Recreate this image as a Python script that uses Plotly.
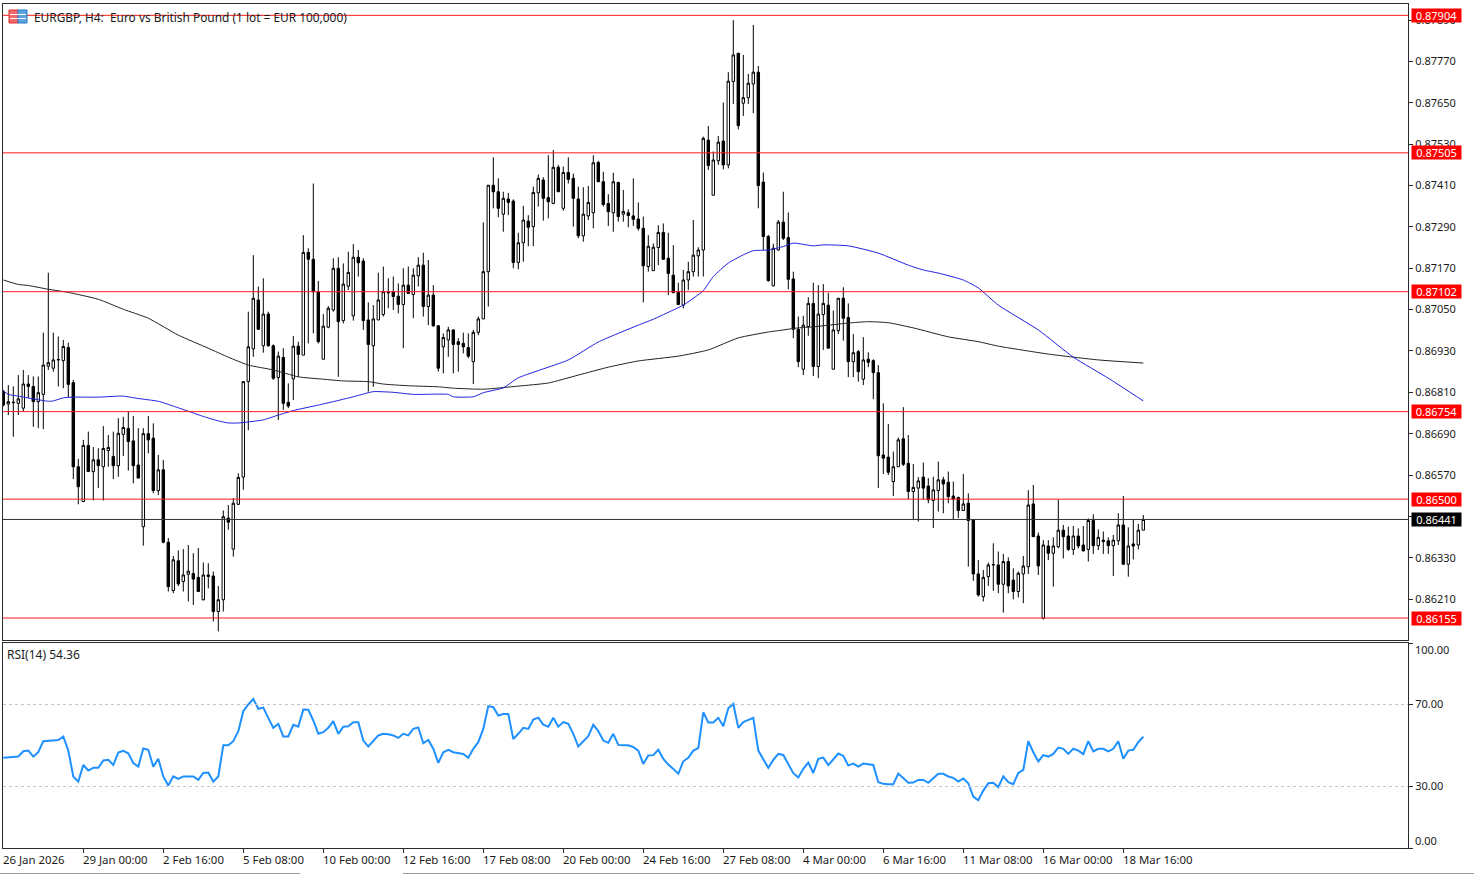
import plotly.graph_objects as go

W, H = 1474, 874
L, R, T, B = 3, 1408, 4, 848

# H4 candles in price points (1 point = 0.00001)
opens_pts = [
86812,86776,86780,86778,86764,86834,86827,86783,86804,86886,
86880,86904,86902,86940,86838,86594,86493,86656,86580,86614,
86594,86641,86624,86597,86688,86705,86669,86599,86420,86690,
86677,86525,86585,86375,86235,86321,86261,86282,86284,86273,
86208,86280,86277,86174,86208,86445,86355,86485,86564,86841,
86936,87078,86945,87037,86945,86853,86911,86781,86849,86944,
86918,87216,87196,87102,86906,86999,87049,87170,87018,87118,
87032,87202,87191,87020,86945,87020,87036,87102,87102,87089,
87065,87121,87094,87148,87179,87059,87092,87003,86942,86962,
86991,86957,86952,86940,86899,86984,87023,87160,87411,87392,
87327,87371,87365,87187,87244,87307,87291,87389,87426,87375,
87358,87463,87344,87448,87431,87371,87264,87322,87331,87477,
87421,87358,87331,87419,87327,87331,87322,87313,87286,87175,
87163,87230,87274,87199,87150,87102,87063,87136,87160,87206,
87223,87542,87382,87482,87539,87470,87712,87794,87649,87665,
87705,87739,87420,87262,87119,87223,87304,87259,87139,86993,
86877,87001,87068,86885,87036,87063,86877,86989,87083,87027,
86899,86928,86848,86906,86902,86867,86628,86622,86551,86594,
86675,86604,86522,86532,86564,86538,86496,86525,86556,86549,
86509,86505,86467,86488,86441,86283,86217,86275,86309,86309,
86253,86319,86265,86232,86283,86304,86486,86393,86154,86364,
86343,86362,86410,86393,86354,86393,86367,86354,86438,86365,
86381,86379,86365,86379,86425,86311,86370,86367,86410]
highs_pts = [
86817,86831,86827,86860,86875,86860,86856,86856,86983,87157,
86983,86972,86962,86954,86846,86617,86672,86696,86651,86648,
86712,86686,86696,86735,86739,86754,86741,86706,86706,86741,
86720,86628,86614,86387,86335,86351,86355,86367,86343,86358,
86316,86314,86290,86248,86467,86483,86503,86575,86841,87044,
87208,87117,87141,87044,86949,86928,86938,86836,86973,86957,
87266,87228,87416,87133,87037,87060,87199,87202,87184,87218,
87240,87223,87199,87071,87063,87157,87175,87141,87146,87126,
87170,87175,87170,87202,87215,87194,87121,87005,86981,87000,
86993,86967,86983,86981,86991,87030,87303,87411,87492,87431,
87392,87389,87370,87273,87351,87324,87407,87442,87434,87498,
87513,87470,87465,87492,87445,87407,87405,87409,87498,87482,
87450,87385,87447,87421,87397,87341,87431,87361,87320,87266,
87242,87295,87300,87273,87237,87128,87165,87189,87310,87231,
87552,87583,87509,87554,87651,87739,87890,87794,87789,87734,
87876,87757,87448,87267,87241,87310,87392,87332,87160,87030,
87032,87086,87128,87121,87124,87099,87047,87083,87115,87068,
86979,86933,86970,86926,86906,86889,86778,86718,86638,86679,
86767,86686,86602,86564,86606,86561,86565,86609,86565,86580,
86551,86507,86573,86517,86441,86323,86294,86316,86372,86348,
86341,86331,86299,86290,86335,86526,86541,86403,86381,86381,
86389,86499,86425,86420,86422,86415,86422,86444,86456,86412,
86406,86389,86396,86459,86509,86418,86441,86428,86454]
lows_pts = [
86769,86744,86681,86744,86754,86793,86710,86706,86703,86875,
86870,86827,86822,86796,86558,86485,86493,86580,86496,86532,
86496,86594,86558,86565,86625,86583,86546,86561,86365,86633,
86517,86512,86372,86232,86227,86248,86232,86203,86193,86232,
86206,86241,86145,86116,86174,86411,86333,86483,86527,86700,
86913,86991,86925,86942,86846,86730,86759,86764,86788,86855,
86918,86952,86981,86952,86906,86996,87044,86855,87010,87107,
87018,87146,86991,86812,86826,87020,87030,87054,87049,87039,
86938,87097,87025,87117,87030,87005,87000,86870,86865,86913,
86865,86870,86923,86909,86834,86976,87023,87059,87344,87318,
87276,87324,87170,87167,87189,87234,87234,87349,87308,87315,
87356,87392,87337,87416,87291,87257,87247,87310,87286,87421,
87349,87293,87276,87305,87305,87289,87293,87279,87071,87160,
87163,87179,87194,87092,87099,87063,87054,87107,87146,87146,
87146,87455,87382,87470,87457,87460,87647,87573,87612,87647,
87620,87344,87223,87131,87117,87221,87252,87109,86967,86883,
86860,86974,86857,86851,86933,86938,86877,86979,86960,86854,
86854,86841,86831,86883,86790,86532,86573,86570,86509,86594,
86596,86500,86442,86435,86498,86488,86416,86464,86459,86488,
86440,86445,86467,86304,86263,86217,86203,86248,86234,86227,
86171,86227,86209,86215,86198,86283,86391,86280,86151,86323,
86246,86357,86328,86350,86338,86357,86348,86319,86341,86352,
86341,86341,86277,86367,86311,86275,86325,86354,86410]
closes_pts = [
86773,86783,86781,86791,86834,86827,86783,86809,86889,86896,
86904,86905,86943,86833,86594,86536,86656,86580,86614,86597,
86647,86650,86597,86691,86708,86667,86597,86561,86690,86672,
86525,86585,86375,86246,86324,86254,86280,86291,86268,86232,
86280,86276,86174,86208,86449,86433,86488,86563,86841,86942,
87083,86993,87037,86945,86851,86915,86778,86770,86944,86920,
87216,87196,87102,86957,87002,87054,87170,87015,87124,87158,
87202,87186,87018,86949,87023,87078,87102,87099,87088,87065,
87121,87097,87150,87179,87059,87092,87003,86880,86969,86991,
86949,86949,86942,86915,86984,87023,87160,87411,87392,87344,
87373,87361,87187,87244,87310,87289,87390,87431,87373,87363,
87463,87392,87448,87428,87373,87264,87327,87361,87476,87421,
87355,87334,87421,87320,87335,87323,87312,87286,87177,87234,
87231,87274,87196,87155,87099,87065,87136,87160,87208,87223,
87547,87468,87484,87536,87470,87713,87789,87584,87665,87707,
87739,87410,87262,87134,87228,87304,87257,87138,86993,86899,
87005,87068,86885,87037,87068,86938,86991,87083,87025,86899,
86925,86870,86904,86897,86867,86626,86619,86578,86594,86672,
86601,86522,86534,86553,86532,86498,86527,86556,86544,86507,
86500,86467,86486,86438,86283,86222,86273,86309,86310,86253,
86319,86248,86232,86285,86306,86483,86391,86306,86367,86343,
86364,86410,86391,86354,86393,86364,86350,86438,86365,86389,
86377,86365,86381,86425,86311,86364,86364,86410,86441]

rsi_values = [
44.0,44.3,44.6,44.6,47.2,47.5,44.6,46.7,52.1,52.4,
52.7,52.7,54.4,47.5,34.9,32.4,40.5,37.8,39.1,39.1,
42.7,43.0,40.5,46.6,47.4,46.2,41.4,39.7,48.5,47.9,
39.7,43.5,34.9,30.5,35.0,33.7,34.9,35.0,34.9,33.2,
36.6,36.8,32.4,34.9,50.1,50.1,52.1,57.0,66.7,70.0,
72.7,67.9,68.5,63.5,58.6,60.6,54.4,54.4,60.1,59.2,
67.5,67.4,62.2,55.7,56.5,58.6,61.9,55.7,59.2,59.4,
61.4,61.4,52.4,49.5,52.4,54.9,55.7,55.5,54.9,53.7,
55.7,54.9,58.1,58.8,51.1,52.7,48.4,41.5,46.7,47.9,
46.7,46.4,45.9,44.0,48.4,51.6,58.1,69.2,68.7,64.6,
65.4,65.4,53.2,55.7,58.6,58.1,62.7,63.6,60.2,59.2,
63.5,59.2,61.4,60.6,55.7,49.5,52.1,54.5,60.1,57.0,
52.4,51.3,55.7,50.3,50.1,50.1,49.2,47.5,41.0,45.1,
45.3,47.9,43.5,40.7,38.6,36.2,42.3,44.0,47.5,48.7,
66.2,61.2,61.2,63.5,59.4,68.2,70.3,58.6,61.4,62.5,
63.5,47.5,43.5,39.1,43.0,45.9,45.4,41.0,36.5,34.4,
38.6,41.7,36.6,43.5,44.1,40.4,43.0,46.1,44.9,40.2,
41.2,39.7,41.2,40.7,40.5,32.1,31.3,31.1,31.1,36.3,
34.2,31.8,31.9,33.2,33.2,31.8,34.0,36.2,36.2,34.9,
34.2,32.4,33.9,31.6,25.1,23.3,28.0,31.6,31.8,29.7,
35.0,32.1,31.1,36.6,38.1,52.1,46.7,42.2,45.3,44.6,
45.9,49.0,48.4,45.9,48.4,47.5,45.8,52.1,47.1,48.4,
48.4,47.1,48.4,52.1,43.5,47.5,47.9,51.6,54.36]

# Moving averages, read at selected bars
blue_ma_bars = [0,1,3,6,9,10,12,14,19,23,24,27,31,34,37,40,43,45,47,52,55,58,63,66,70,72,74,78,82,89,90,94,96,
                100,103,113,119,127,130,134,136,140,142,145,148,150,153,156,158,162,164,169,175,181,184,187,192,195,
                199,207,214,221,228]
blue_ma_pts = [86814,86804,86799,86791,86784,86785,86794,86796,86796,86799,86799,86792,86784,86770,86755,86740,86727,86721,86721,
               86730,86744,86757,86773,86783,86797,86805,86812,86810,86804,86804,86797,86797,86809,
               86823,86852,86904,86956,87005,87022,87049,87063,87105,87146,87185,87209,87221,87223,87233,87243,87235,87238,
               87235,87214,87179,87165,87156,87136,87113,
               87063,86991,86912,86851,86785]
black_ma_bars = [0,3,5,9,13,19,24,29,35,41,45,49,54,59,64,68,73,76,81,87,90,96,103,109,115,121,127,135,141,147,153,155,
                 159,162,169,173,177,182,189,195,199,209,219,228]
black_ma_pts = [87136,87123,87120,87109,87100,87080,87051,87025,86976,86938,86912,86889,86875,86855,86848,86843,86841,86834,
                86829,86826,86822,86819,86828,86837,86860,86883,86901,86915,86933,86968,86985,86989,
                86997,87000,87011,87015,87012,86997,86971,86957,86944,86921,86904,86895]

level_prices = [0.87904, 0.87505, 0.87102, 0.86754, 0.86500, 0.86155]
last_price = 0.86441
price_ticks = [0.86210, 0.86330, 0.86450, 0.86570, 0.86690, 0.86810, 0.86930, 0.87050, 0.87170,
               0.87290, 0.87410, 0.87530, 0.87650, 0.87770, 0.87890]
price_tick_labels = ["0.86210", "0.86330", "", "0.86570", "0.86690", "0.86810", "0.86930", "0.87050", "0.87170",
                     "0.87290", "0.87410", "0.87530", "0.87650", "0.87770", "0.87890"]
time_labels = ["26 Jan 2026", "29 Jan 00:00", "2 Feb 16:00", "5 Feb 08:00", "10 Feb 00:00", "12 Feb 16:00",
               "17 Feb 08:00", "20 Feb 00:00", "24 Feb 16:00", "27 Feb 08:00", "4 Mar 00:00", "6 Mar 16:00",
               "11 Mar 08:00", "16 Mar 00:00", "18 Mar 16:00"]
time_label_bars = [0, 16, 32, 48, 64, 80, 96, 112, 128, 144, 160, 176, 192, 208, 224]

pts = lambda s: [v / 1e5 for v in s]
bars = list(range(len(opens_pts)))
FONT = "Noto Sans"
DARK = "#2a2a2a"
TXT = "#1a1a1a"

fig = go.Figure()
fig.add_trace(go.Candlestick(
    x=bars, open=pts(opens_pts), high=pts(highs_pts), low=pts(lows_pts), close=pts(closes_pts),
    xaxis="x", yaxis="y", whiskerwidth=0, showlegend=False, hoverinfo="skip",
    increasing=dict(line=dict(color="#000000", width=1), fillcolor="#ffffff"),
    decreasing=dict(line=dict(color="#000000", width=1), fillcolor="#000000"),
))
fig.add_trace(go.Scatter(x=black_ma_bars, y=pts(black_ma_pts), mode="lines", xaxis="x", yaxis="y",
                         line=dict(color="#222222", width=1, shape="spline", smoothing=0.5),
                         showlegend=False, hoverinfo="skip"))
fig.add_trace(go.Scatter(x=blue_ma_bars, y=pts(blue_ma_pts), mode="lines", xaxis="x", yaxis="y",
                         line=dict(color="#1f1fe0", width=1, shape="spline", smoothing=0.5),
                         showlegend=False, hoverinfo="skip"))
fig.add_trace(go.Scatter(x=bars, y=rsi_values, mode="lines", xaxis="x2", yaxis="y2",
                         line=dict(color="#1e90ff", width=2), showlegend=False, hoverinfo="skip"))

bar_min = (L - 3.3) / 5
bar_max = (R - 3.3) / 5
price_at = lambda py: (87948.5 - 2.902 * py) / 1e5

shapes = []
annotations = []
px = lambda x: (x - L) / (R - L)
py = lambda y: (B - y) / (B - T)

for p in level_prices:
    shapes.append(dict(type="line", xref="paper", yref="y", x0=0, x1=1, y0=p, y1=p,
                       line=dict(color="#ff1a1a", width=1)))
    annotations.append(dict(xref="paper", yref="y", x=px(1410.5), y=p, xanchor="left", yanchor="middle",
                            text=f"{p:.5f}", showarrow=False, bgcolor="#ff0000",
                            font=dict(family=FONT, size=11, color="#ffffff"), borderpad=0,
                            width=49, height=13, align="center"))
shapes.append(dict(type="line", xref="paper", yref="y", x0=0, x1=1, y0=last_price, y1=last_price,
                   line=dict(color="#333333", width=1)))
annotations.append(dict(xref="paper", yref="y", x=px(1410.5), y=last_price, xanchor="left", yanchor="middle",
                        text=f"{last_price:.5f}", showarrow=False, bgcolor="#000000",
                        font=dict(family=FONT, size=11, color="#ffffff"), borderpad=0,
                        width=49, height=13, align="center"))

for lvl in [70, 30]:
    shapes.append(dict(type="line", xref="paper", yref="y2", x0=0, x1=1, y0=lvl, y1=lvl,
                       line=dict(color="#c4c4c4", width=1, dash="3px,3px")))

# header icon
shapes.append(dict(type="rect", xref="paper", yref="paper", x0=px(9), x1=px(18), y0=py(23), y1=py(10),
                   fillcolor="#f26a6a", line=dict(color="#e03030", width=1)))
shapes.append(dict(type="rect", xref="paper", yref="paper", x0=px(18), x1=px(27), y0=py(23), y1=py(10),
                   fillcolor="#5aa5e0", line=dict(color="#2878c0", width=1)))
for yy in (14.5, 18.5):
    shapes.append(dict(type="line", xref="paper", yref="paper", x0=px(10), x1=px(26), y0=py(yy), y1=py(yy),
                       line=dict(color="#ffffff", width=1)))
# window edge remnants along the bottom
for x0, x1 in [(0, 300), (403, 1474)]:
    shapes.append(dict(type="line", xref="paper", yref="paper", x0=px(x0), x1=px(x1), y0=py(873.5), y1=py(873.5),
                       line=dict(color="#9a9a9a", width=1)))

annotations.append(dict(xref="paper", yref="paper", x=px(32), y=py(17), xanchor="left", yanchor="middle",
                        text="EURGBP, H4:  Euro vs British Pound (1 lot = EUR 100,000)", showarrow=False,
                        font=dict(family=FONT, size=11.9, color=TXT)))
annotations.append(dict(xref="paper", yref="paper", x=px(5), y=py(654), xanchor="left", yanchor="middle",
                        text="RSI(14) 54.36", showarrow=False, font=dict(family=FONT, size=12, color=TXT)))
for txt, yp in [("100.00", 649), ("0.00", 840)]:
    annotations.append(dict(xref="paper", yref="paper", x=px(1413), y=py(yp), xanchor="left", yanchor="middle",
                            text=txt, showarrow=False, font=dict(family=FONT, size=11, color=TXT)))
for bar, txt in zip(time_label_bars, time_labels):
    annotations.append(dict(xref="x2", yref="paper", x=bar, y=py(859), xanchor="left", yanchor="middle",
                            text=txt, showarrow=False, xshift=-2.5,
                            font=dict(family=FONT, size=11.4, color=TXT)))

axis_line = dict(showline=True, linecolor=DARK, linewidth=1, mirror=True, showgrid=False, zeroline=False)
fig.update_layout(
    width=W, height=H, autosize=False,
    margin=dict(l=L, r=W - R, t=T, b=H - B, pad=0),
    paper_bgcolor="#ffffff", plot_bgcolor="#ffffff",
    showlegend=False, boxgap=0.3,
    font=dict(family=FONT, size=11, color=TXT),
    xaxis=dict(domain=[0, 1], range=[bar_min, bar_max], anchor="y", rangeslider=dict(visible=False),
               showticklabels=False, ticks="", **axis_line),
    xaxis2=dict(domain=[0, 1], range=[bar_min, bar_max], anchor="y2", tickvals=time_label_bars[1:],
                showticklabels=False, ticks="outside", ticklen=4, tickcolor=DARK, **axis_line),
    yaxis=dict(domain=[(B - 640) / (B - T), 1], range=[price_at(640), price_at(T)], anchor="x", side="right",
               tickvals=price_ticks, ticktext=price_tick_labels,
               ticks="outside", ticklen=4, tickcolor=DARK, tickfont=dict(family=FONT, size=11, color=TXT),
               **axis_line),
    yaxis2=dict(domain=[0, (B - 643) / (B - T)], range=[0, 100], anchor="x2", side="right",
                tickvals=[100, 70, 30, 0], ticktext=["", "70.00", "30.00", ""],
                ticks="outside", ticklen=4, tickcolor=DARK, tickfont=dict(family=FONT, size=11, color=TXT),
                **axis_line),
    shapes=shapes, annotations=annotations,
)
fig.write_html("out.html", config=dict(displayModeBar=False),
               post_script="document.body.style.margin='0';document.body.style.overflow='hidden';")
